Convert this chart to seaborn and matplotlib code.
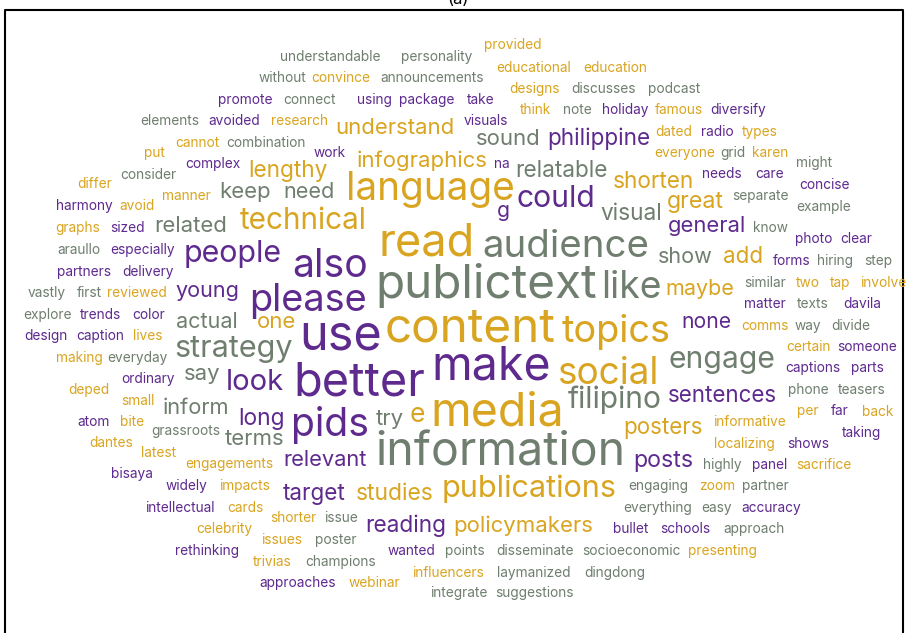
import matplotlib
matplotlib.use("Agg")
import matplotlib.pyplot as plt
import seaborn as sns

# word cloud data: words, font size in px (frequency weight) and layout position (x, baseline y in px)
gold_words = ["provided", "convince", "educational", "education", "designs", "research", "think", "famous",
              "understand", "cannot", "dated", "types", "put", "everyone", "karen", "infographics", "lengthy",
              "shorten", "differ", "manner", "language", "great", "avoid", "technical", "graphs", "read", "add",
              "reviewed", "two", "tap", "involve", "maybe", "one", "comms", "lives", "topics", "content",
              "certain", "making", "social", "deped", "small", "per", "back", "e", "media", "informative",
              "bite", "posters", "dantes", "localizing", "latest", "engagements", "sacrifice", "impacts", "zoom",
              "studies", "publications", "cards", "shorter", "policymakers", "celebrity", "issues", "presenting",
              "trivias", "influencers", "webinar"]
gold_sizes = [13, 13, 13, 13, 13, 13, 13, 13,
              21, 13, 13, 13, 13, 13, 13, 21, 21.5,
              21.5, 13, 13, 36.7, 22, 13, 28.2, 13, 42.8, 21.2,
              13, 13, 13, 13, 20.4, 21, 13, 13, 36, 45.2,
              13, 13, 35, 13, 13, 13, 13, 25, 44, 13,
              13, 21.2, 13, 13, 13, 13, 13, 13, 13,
              21.7, 29, 13, 13, 21, 13, 13, 13,
              13, 13, 13]
gold_xy = [(513, 49), (341, 82), (534, 72), (615, 72), (535, 93), (299, 125), (535, 114), (679, 114),
           (395, 134), (197, 147), (674, 136), (760, 136), (154, 157), (685, 157), (770, 157), (422, 167), (288, 177),
           (653, 188), (95, 188), (186, 200), (430, 200), (695, 208), (137, 210), (303, 229), (78, 232), (427, 255), (743, 263),
           (137, 297), (808, 287), (840, 287), (883, 287), (700, 295), (277, 328), (765, 330), (148, 340), (616, 342), (470, 341),
           (808, 351), (79, 362), (608, 384), (89, 394), (138, 405), (808, 415), (878, 416), (417, 422), (497, 425), (749, 426),
           (132, 426), (663, 434), (111, 447), (744, 448), (159, 457), (229, 468), (824, 469), (245, 490), (717, 490),
           (395, 500), (529, 497), (245, 512), (293, 522), (523, 532), (224, 533), (282, 544), (722, 555),
           (272, 566), (448, 577), (374, 587)]

purple_words = ["promote", "using", "package", "take", "holiday", "diversify", "avoided", "visuals", "radio",
                "philippine", "work", "complex", "na", "needs", "care", "concise", "could", "harmony", "g",
                "sized", "general", "photo", "clear", "especially", "people", "forms", "also", "partners",
                "delivery", "young", "please", "matter", "davila", "trends", "color", "none", "design",
                "caption", "use", "someone", "captions", "parts", "make", "ordinary", "look", "better",
                "sentences", "far", "atom", "long", "taking", "pids", "shows", "relevant", "posts", "panel",
                "bisaya", "widely", "target", "intellectual", "accuracy", "reading", "bullet", "schools",
                "rethinking", "wanted", "approaches"]
purple_sizes = [13, 13, 13, 13, 13, 13, 13, 13, 13,
                21.3, 13, 13, 13, 13, 13, 13, 28.5, 13, 20,
                13, 20.8, 13, 13, 13, 28.8, 13, 37, 13,
                13, 20.4, 36, 13, 13, 13, 13, 20, 13,
                13, 46, 13, 13, 13, 44, 13, 27.6, 44.5,
                21.2, 13, 13, 21.6, 13, 37, 13, 20.7, 22, 13,
                13, 13, 21.3, 13, 13, 21.4, 13, 13,
                13, 13, 13]
purple_xy = [(245, 104), (374, 104), (427, 104), (481, 104), (625, 114), (738, 114), (234, 125), (486, 125), (717, 136),
             (599, 145), (330, 157), (213, 168), (502, 168), (722, 178), (770, 178), (824, 189), (556, 207), (84, 210), (503, 217),
             (127, 232), (707, 232), (814, 243), (856, 243), (143, 254), (233, 262), (792, 265), (330, 277), (84, 276),
             (148, 276), (207, 297), (308, 311), (765, 308), (862, 308), (100, 319), (149, 319), (706, 328), (46, 340),
             (100, 340), (341, 350), (867, 351), (813, 372), (867, 372), (491, 380), (148, 383), (255, 390), (359, 395),
             (722, 402), (840, 415), (94, 426), (261, 425), (862, 437), (330, 436), (808, 448), (325, 466), (663, 467), (770, 469),
             (132, 478), (186, 490), (314, 500), (180, 512), (771, 512), (406, 532), (631, 533), (685, 533),
             (207, 555), (411, 555), (298, 587)]

gray_words = ["understandable", "personality", "without", "announcements", "connect", "discusses", "podcast",
              "elements", "note", "combination", "sound", "grid", "might", "consider", "relatable", "keep", "need",
              "separate", "example", "visual", "related", "know", "araullo", "audience", "show", "hiring", "step",
              "similar", "publictext", "like", "vastly", "first", "texts", "explore", "actual", "way", "divide",
              "strategy", "everyday", "engage", "say", "phone", "teasers", "filipino", "inform", "try",
              "grassroots", "terms", "information", "highly", "engaging", "everything", "easy", "issue",
              "partner", "approach", "poster", "points", "disseminate", "socioeconomic", "champions",
              "laymanized", "dingdong", "integrate", "suggestions"]
gray_sizes = [13, 13, 13, 13, 13, 13, 13,
              13, 13, 13, 21, 13, 13, 13, 21.4, 21, 20.5,
              13, 13, 21.4, 21, 13, 13, 36.4, 20.5, 13, 13,
              13, 45.2, 35.4, 13, 13, 13, 13, 20.4, 13, 13,
              29, 13, 28.5, 21, 13, 13, 28.4, 20.7, 21,
              13, 21, 44, 13, 13, 13, 13, 13,
              13, 13, 13, 13, 13, 13, 13,
              13, 13, 13, 13]
gray_xy = [(330, 61), (437, 61), (282, 82), (432, 82), (309, 104), (604, 93), (674, 93),
           (170, 125), (577, 114), (266, 147), (508, 145), (733, 157), (814, 167), (148, 179), (561, 177), (245, 198), (309, 198),
           (760, 200), (824, 211), (631, 220), (191, 232), (770, 232), (79, 254), (566, 257), (685, 263), (835, 265), (878, 265),
           (765, 287), (486, 298), (631, 298), (47, 297), (89, 297), (813, 308), (47, 319), (207, 328), (808, 330), (851, 330),
           (234, 357), (137, 362), (722, 368), (202, 380), (808, 394), (862, 394), (615, 408), (196, 414), (390, 425),
           (186, 435), (255, 445), (500, 466), (722, 469), (658, 490), (658, 512), (717, 512), (341, 522),
           (765, 490), (754, 533), (336, 544), (465, 555), (535, 555), (631, 555), (341, 566),
           (534, 577), (615, 577), (459, 597), (534, 597)]

sns.set_theme(style="white")
plt.rcParams['font.family'] = ['Inter', 'DejaVu Sans']
palette = sns.color_palette(["#D9A520", "#5E2A8E", "#6F7E6F"])

fig = plt.figure(figsize=(9.07, 6.33), dpi=100)
ax = fig.add_axes([0, 0, 1, 1])
ax.set_xlim(0, 907)
ax.set_ylim(633, 0)
ax.axis("off")

groups = [(gold_words, gold_sizes, gold_xy), (purple_words, purple_sizes, purple_xy),
          (gray_words, gray_sizes, gray_xy)]
for color, (words, sizes, xy) in zip(palette, groups):
    for w, s, (x, y) in zip(words, sizes, xy):
        ax.text(x, y, w, color=color, fontsize=s * 0.76, ha="center", va="baseline")

# frame and the cut-off panel label
ax.plot([5, 5, 903, 903], [640, 10, 10, 640], color="black", lw=1.5, clip_on=False)
ax.text(458, 4, "(a)", fontsize=12, ha="center", va="baseline", color="black")

fig.savefig("out.png", dpi=100)
